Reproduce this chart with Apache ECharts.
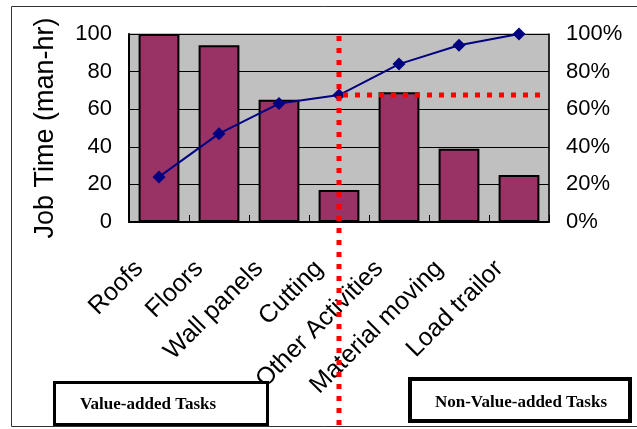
<!DOCTYPE html>
<html>
<head>
<meta charset="utf-8">
<style>
  html, body { margin: 0; padding: 0; background: #fff; }
  #chart { width: 637px; height: 429px; }
</style>
<script src="https://cdn.jsdelivr.net/npm/echarts@6/dist/echarts.min.js"></script>
</head>
<body>
<div id="chart"></div>
<script>
// Job time per task (man-hr) with cumulative share (%)
const tasks = ['Roofs', 'Floors', 'Wall panels', 'Cutting', 'Other Activities', 'Material moving', 'Load trailor'];
const jobTime = [100, 94, 65, 17, 69, 39, 25];
const cumulativePct = [24, 47, 63, 67.5, 84, 94, 100];
const leftTicks = [0, 20, 40, 60, 80, 100];
const rightTicks = [0, 20, 40, 60, 80, 100];
// split between value-added and non-value-added work
const splitTask = 'Cutting';
const splitPct = 67.5;

const chart = echarts.init(document.getElementById('chart'), null, { renderer: 'canvas' });

const font = 'Liberation Sans, Arial, sans-serif';

const option = {
  animation: false,
  backgroundColor: '#ffffff',
  grid: {
    left: 129, top: 34, right: 88, bottom: 207,
    show: true, backgroundColor: '#c0c0c0', borderColor: '#808080', borderWidth: 1
  },
  xAxis: {
    type: 'category',
    data: tasks,
    boundaryGap: true,
    axisLine: { show: true, lineStyle: { color: '#000', width: 2 } },
    axisTick: { show: true, inside: true, length: 7, alignWithLabel: false, lineStyle: { color: '#000', width: 1 } },
    axisLabel: {
      rotate: 45, interval: 0, margin: 23, fontSize: 25, color: '#000', fontFamily: font,
      padding: [0, 28, 0, 0]
    },
    splitLine: { show: false }
  },
  yAxis: [
    {
      type: 'value', min: leftTicks[0], max: leftTicks[leftTicks.length - 1], interval: 20,
      name: 'Job Time (man-hr)', nameLocation: 'middle', nameRotate: 90, nameGap: 70,
      nameTextStyle: { fontSize: 27, color: '#000', fontFamily: font },
      axisLine: { show: true, lineStyle: { color: '#000', width: 2 } },
      axisTick: { show: false },
      axisLabel: { fontSize: 22, color: '#000', margin: 17, fontFamily: font },
      splitLine: { show: true, lineStyle: { color: '#000', width: 1 } }
    },
    {
      type: 'value', min: rightTicks[0], max: rightTicks[rightTicks.length - 1], interval: 20,
      position: 'right',
      axisLine: { show: true, lineStyle: { color: '#000', width: 1.5 } },
      axisTick: { show: false },
      axisLabel: { fontSize: 22, color: '#000', margin: 17, fontFamily: font, formatter: '{value}%' },
      splitLine: { show: false }
    }
  ],
  series: [
    {
      type: 'bar', data: jobTime, yAxisIndex: 0, barWidth: '68%',
      itemStyle: { color: '#993366', borderColor: '#000', borderWidth: 2 },
      z: 2
    },
    {
      type: 'line', data: cumulativePct, yAxisIndex: 1,
      symbol: 'diamond', symbolSize: 13,
      lineStyle: { color: '#000080', width: 2 },
      itemStyle: { color: '#000080' },
      z: 3
    }
  ]
};

chart.setOption(option);

// Annotation lines placed through the chart's own coordinate system
const splitPoint = chart.convertToPixel({ xAxisIndex: 0, yAxisIndex: 1 }, [splitTask, splitPct]);
const gridRect = chart.getModel().getComponent('grid').coordinateSystem.getRect();
const rightEdge = gridRect.x + gridRect.width;
const topEdge = gridRect.y;

const dotStyle = { stroke: '#ff0000', lineWidth: 5, lineDash: [5, 7] };

chart.setOption({
  graphic: [
    // outer frame (top, left, bottom)
    { type: 'polyline', z: 1, shape: { points: [[637, 6.5], [11.5, 6.5], [11.5, 426.5], [637, 426.5]] },
      style: { stroke: '#333', lineWidth: 1, fill: null } },
    // vertical split through the chart
    { type: 'line', z: 100, shape: { x1: splitPoint[0], y1: topEdge + 2, x2: splitPoint[0], y2: 429 },
      style: dotStyle },
    // horizontal split at the cumulative share
    { type: 'line', z: 100, shape: { x1: splitPoint[0] + 4, y1: splitPoint[1], x2: rightEdge - 2, y2: splitPoint[1] },
      style: dotStyle },
    // task group boxes
    { type: 'rect', z: 50, shape: { x: 54.5, y: 382.5, width: 213, height: 42 },
      style: { fill: '#fff', stroke: '#000', lineWidth: 3 } },
    { type: 'text', z: 51, style: { text: 'Value-added Tasks', x: 148, y: 405, align: 'center', verticalAlign: 'middle',
      font: 'bold 17px "Liberation Serif", "Times New Roman", serif', fill: '#000' } },
    { type: 'rect', z: 50, shape: { x: 410, y: 379, width: 220, height: 42 },
      style: { fill: '#fff', stroke: '#000', lineWidth: 4 } },
    { type: 'text', z: 51, style: { text: 'Non-Value-added Tasks', x: 521, y: 403, align: 'center', verticalAlign: 'middle',
      font: 'bold 17px "Liberation Serif", "Times New Roman", serif', fill: '#000' } }
  ]
});
</script>
</body>
</html>
